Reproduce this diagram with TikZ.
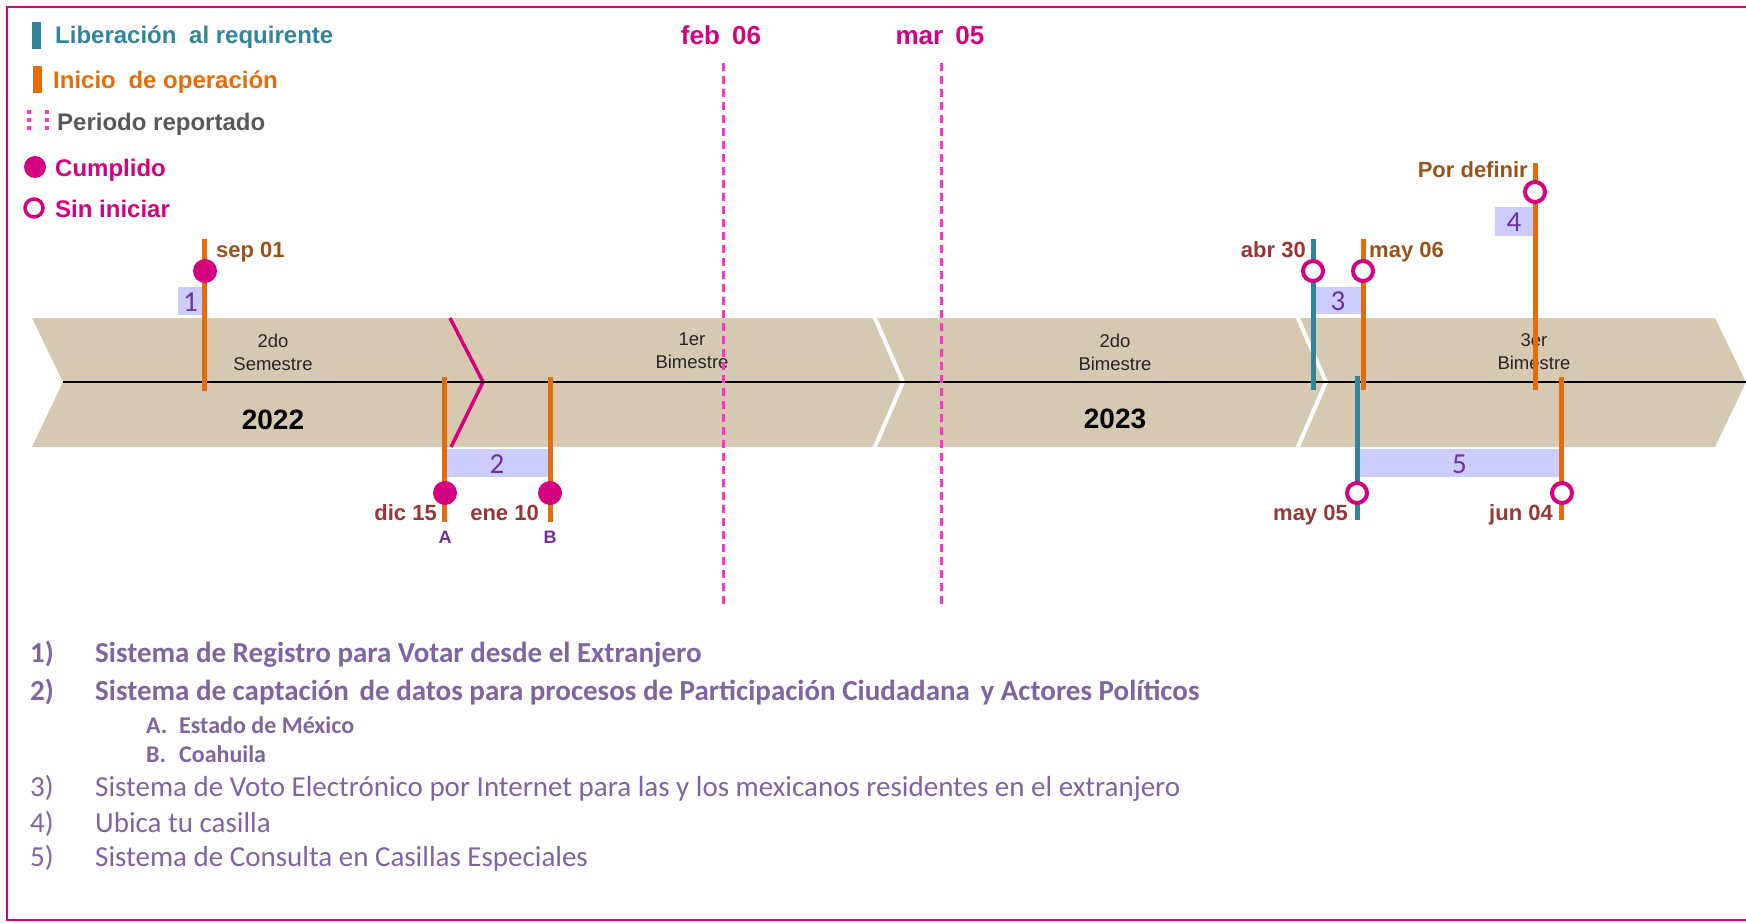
\documentclass[tikz,border=0pt]{standalone}
\usepackage{fontspec}
\setmainfont{Liberation Sans}
\newfontfamily\calib{Carlito}
\definecolor{mag}{HTML}{D5007F}
\definecolor{tealc}{HTML}{31849B}
\definecolor{orng}{HTML}{E46C0A}
\definecolor{tanc}{HTML}{D7C9B1}
\definecolor{pinkd}{HTML}{FF33CC}
\definecolor{lav}{HTML}{CCCCFF}
\definecolor{purp}{HTML}{7030A0}
\definecolor{brwn}{HTML}{9C5217}
\definecolor{rbrn}{HTML}{963735}
\definecolor{lstc}{HTML}{8064A2}
\definecolor{gry}{HTML}{595959}
\tikzset{
  oline/.style={draw=orng, line width=5pt},
  tline/.style={draw=tealc, line width=5pt},
  perdash/.style={draw=pinkd, line width=3pt, dash pattern=on 8pt off 5pt},
  done/.style={circle, fill=mag, minimum size=24pt, inner sep=0pt},
  todo/.style={circle, draw=mag, fill=white, line width=4pt, minimum size=20pt, inner sep=0pt},
  numbox/.style={fill=lav, inner sep=0pt},
  numtxt/.style={text=purp, inner sep=0pt, anchor=base, font=\calib\fontsize{29}{29}\selectfont},
  datelbl/.style={inner sep=0pt, font=\bfseries\fontsize{22}{22}\selectfont},
  leglbl/.style={inner sep=0pt, anchor=base west, font=\bfseries\fontsize{24}{24}\selectfont},
  bandtxt/.style={inner sep=0pt, align=center, text=black!85, font=\fontsize{18.5}{23}\selectfont},
  yeartxt/.style={inner sep=0pt, anchor=base, font=\bfseries\fontsize{28}{28}\selectfont},
  lsttxt/.style={inner sep=0pt, anchor=base west, text=lstc, font=\calib\fontsize{29}{29}\selectfont},
  lstbold/.style={lsttxt, font=\calib\bfseries\fontsize{29}{29}\selectfont},
  subtxt/.style={inner sep=0pt, anchor=base west, text=lstc, font=\calib\bfseries\fontsize{24}{24}\selectfont},
}
\begin{document}
\begin{tikzpicture}[x=1pt,y=-1pt]
\useasboundingbox (0,0) rectangle (1746,923);
% border
\draw[mag, line width=2.5pt] (1750,7) -- (7,7) -- (7,920) -- (1750,920);

% band
\fill[tanc] (32,318) -- (1715,318) -- (1746,382) -- (1715,447) -- (32,447) -- (63,382) -- cycle;
\draw[white, line width=4pt] (874,316) -- (903,382) -- (874,449);
\draw[white, line width=4pt] (1297,316) -- (1326,382) -- (1297,449);
\draw[mag, line width=3.5pt] (450,318) -- (483,382) -- (451,447);
\coordinate (axl) at (63,382);
\coordinate (axr) at (1746,382);
\draw[black, line width=2pt] (axl) -- (axr);

% band texts
\node[bandtxt] (t1) at (273,352) {2do\\Semestre};
\node[bandtxt] (t2) at (692,351) {1er\\Bimestre};
\node[bandtxt] (t3) at (1115,352) {2do\\Bimestre};
\node[bandtxt] (t4) at (1534,352) {3er\\Bimestre};
\node[yeartxt] (y1) at (273,429) {2022};
\node[yeartxt] (y2) at (1115,428) {2023};

% period lines
\coordinate (fa) at (723,63); \coordinate (fb) at (723,607);
\coordinate (ma) at (941,63); \coordinate (mb) at (941,607);
\draw[perdash] (fa) -- (fb);
\draw[perdash] (ma) -- (mb);
\node[inner sep=0pt, anchor=base, text=mag, font=\bfseries\fontsize{26}{26}\selectfont] (feb) at (721,45) {feb\hspace{5pt} 06};
\node[inner sep=0pt, anchor=base, text=mag, font=\bfseries\fontsize{26}{26}\selectfont] (mar) at (940,45) {mar\hspace{5pt} 05};

% number boxes
\node[numbox, minimum width=25pt, minimum height=28pt] (b1) at (190.5,301) {};
\node[numtxt] at (190.5,311) {1};
\node[numbox, minimum width=102pt, minimum height=28pt] (b2) at (497,463) {};
\node[numtxt] at (497,473) {2};
\node[numbox, minimum width=46pt, minimum height=27pt] (b3) at (1338,300.5) {};
\node[numtxt] at (1338,310) {3};
\node[numbox, minimum width=38pt, minimum height=29pt] (b4) at (1514,221.5) {};
\node[numtxt] at (1514,231) {4};
\node[numbox, minimum width=201pt, minimum height=28pt] (b5) at (1459.5,463) {};
\node[numtxt] at (1459.5,473) {5};

% milestone lines
\coordinate (s1t) at (204,239); \coordinate (s1b) at (204,391);
\coordinate (d1t) at (444,377); \coordinate (d1b) at (444,522);
\coordinate (e1t) at (550,377); \coordinate (e1b) at (550,522);
\coordinate (a3t) at (1313,239); \coordinate (a3b) at (1313,390);
\coordinate (m3t) at (1363,239); \coordinate (m3b) at (1363,390);
\coordinate (p4t) at (1535,163); \coordinate (p4b) at (1535,390);
\coordinate (m5t) at (1357,376); \coordinate (m5b) at (1357,520);
\coordinate (j5t) at (1561,377); \coordinate (j5b) at (1561,520);
\draw[oline] (s1t) -- (s1b);
\draw[oline] (d1t) -- (d1b);
\draw[oline] (e1t) -- (e1b);
\draw[tline] (a3t) -- (a3b);
\draw[oline] (m3t) -- (m3b);
\draw[oline] (p4t) -- (p4b);
\draw[tline] (m5t) -- (m5b);
\draw[oline] (j5t) -- (j5b);

% circles
\node[done] (c1) at (205,271) {};
\node[done] (c2a) at (445,493) {};
\node[done] (c2b) at (550,493) {};
\node[todo] (c3a) at (1313,271) {};
\node[todo] (c3b) at (1363,271) {};
\node[todo] (c4) at (1535,192) {};
\node[todo] (c5a) at (1357,493) {};
\node[todo] (c5b) at (1562,493) {};

% date labels
\node[datelbl, anchor=base west, text=brwn] (l1) at (216,257) {sep 01};
\node[datelbl, anchor=base east, text=rbrn] (l2a) at (437,520) {dic 15};
\node[datelbl, anchor=base east, text=rbrn] (l2b) at (539,520) {ene 10};
\node[datelbl, anchor=base east, text=rbrn] (l3a) at (1306,257) {abr 30};
\node[datelbl, anchor=base west, text=brwn] (l3b) at (1369,257) {may 06};
\node[datelbl, anchor=base east, text=brwn] (l4) at (1528,178) {Por definir};
\node[datelbl, anchor=base east, text=rbrn] (l5a) at (1348,520) {may 05};
\node[datelbl, anchor=base east, text=rbrn] (l5b) at (1553,520) {jun 04};
\node[inner sep=0pt, anchor=base, text=purp, font=\bfseries\fontsize{18}{18}\selectfont] (la) at (445,543) {A};
\node[inner sep=0pt, anchor=base, text=purp, font=\bfseries\fontsize{18}{18}\selectfont] (lb) at (550,543) {B};

% legend
\fill[tealc] (32,22) rectangle (41,49);
\node[leglbl, text=tealc] (g1) at (55,44) {Liberación\hspace{6pt} al requirente};
\fill[orng] (33,66) rectangle (42,93);
\node[leglbl, text=orng] (g2) at (53,89) {Inicio\hspace{6pt} de operación};
\coordinate (da) at (29,110); \coordinate (db) at (29,132);
\coordinate (dc) at (47,110); \coordinate (dd) at (47,132);
\draw[draw=pinkd, line width=4pt, dash pattern=on 4pt off 4pt] (da) -- (db);
\draw[draw=pinkd, line width=4pt, dash pattern=on 4pt off 4pt] (dc) -- (dd);
\node[leglbl, text=gry] (g3) at (57,131) {Periodo reportado};
\node[done, minimum size=22pt] (g4c) at (35,167) {};
\node[leglbl, text=mag] (g4) at (55,176) {Cumplido};
\node[todo, minimum size=18pt, line width=3.5pt] (g5c) at (34,208) {};
\node[leglbl, text=mag] (g5) at (55,217) {Sin iniciar};

% list
\node[lstbold] (n1) at (30,662) {1)};
\node[lstbold] (i1) at (95,662) {Sistema de Registro para Votar desde el Extranjero};
\node[lstbold] (n2) at (30,700) {2)};
\node[lstbold] (i2) at (95,700) {Sistema de captación\hspace{4pt} de datos para procesos de Participación Ciudadana\hspace{4pt} y Actores Políticos};
\node[subtxt] (nA) at (146,733) {A.};
\node[subtxt] (iA) at (179,733) {Estado de México};
\node[subtxt] (nB) at (146,762) {B.};
\node[subtxt] (iB) at (179,762) {Coahuila};
\node[lsttxt] (n3) at (30,796) {3)};
\node[lsttxt] (i3) at (95,796) {Sistema de Voto Electrónico por Internet para las y los mexicanos residentes en el extranjero};
\node[lsttxt] (n4) at (30,832) {4)};
\node[lsttxt] (i4) at (95,832) {Ubica tu casilla};
\node[lsttxt] (n5) at (30,866) {5)};
\node[lsttxt] (i5) at (95,866) {Sistema de Consulta en Casillas Especiales};
\end{tikzpicture}
\end{document}
